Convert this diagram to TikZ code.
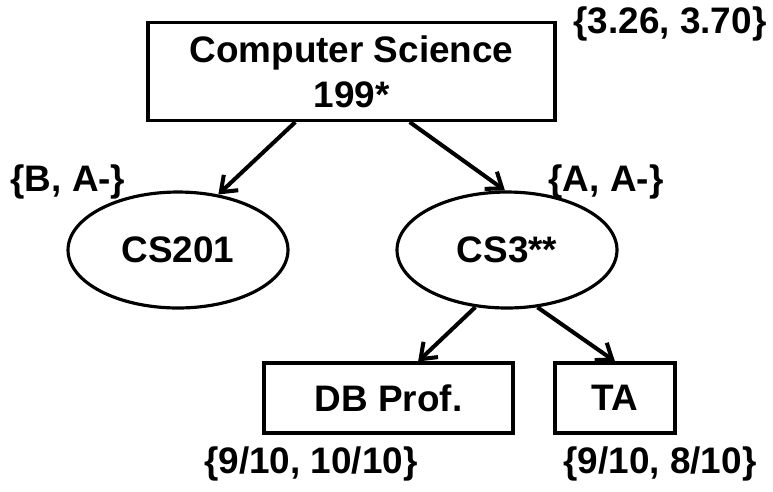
\documentclass[tikz,border=0pt]{standalone}
\usepackage{fontspec}
\setmainfont{Liberation Sans}
\usepackage{tikz}
\usetikzlibrary{
  positioning,
  shapes.geometric,
  arrows.meta
}

\tikzset{
  treebox/.style={draw,rectangle,line width=1.8pt,inner sep=0pt},
  treeoval/.style={draw,ellipse,line width=1.8pt,inner sep=0pt,minimum width=4.4cm,minimum height=2.32cm},
  score/.style={inner sep=0pt},
  treeedge/.style={->,line width=2.3pt}
}

\begin{document}
\begin{tikzpicture}[x=0.02cm,y=-0.02cm,>={Straight Barb[length=8pt,width=12pt]},font=\fontsize{21}{25.5}\selectfont\bfseries]
            \useasboundingbox (0,0) rectangle (773,491);
            \node[treebox,minimum width=8.14cm,minimum height=1.96cm,align=center] (root) at (351.5,71.5) {Computer Science\\199*};
            \node[treeoval] (cs201) at (178,250) {CS201};
            \node[treeoval] (cs3) at (507,250) {CS3**};
            \node[treebox,minimum width=4.98cm,minimum height=1.4cm] (db) at (388.5,398) {DB Prof.};
            \node[treebox,minimum width=2.4cm,minimum height=1.4cm] (ta) at (615,398) {TA};
            % score labels
            \node[score] (rootscore) at (670,24) {\{3.26, 3.70\}};
            \node[score] (cs201score) at (68,182) {\{B, A-\}};
            \node[score] (cs3score) at (606,182) {\{A, A-\}};
            \node[score] (dbscore) at (311,464) {\{9/10, 10/10\}};
            \node[score] (tascore) at (660,464) {\{9/10, 8/10\}};
            % edges
            \draw[treeedge] (root.222) -- (cs201.54);
            \draw[treeedge] (root.319) -- (cs3.92);
            \draw[treeedge] (cs3.241) -- (db.51);
            \draw[treeedge] (cs3.298) -- (ta.north);
        \end{tikzpicture}
\end{document}
